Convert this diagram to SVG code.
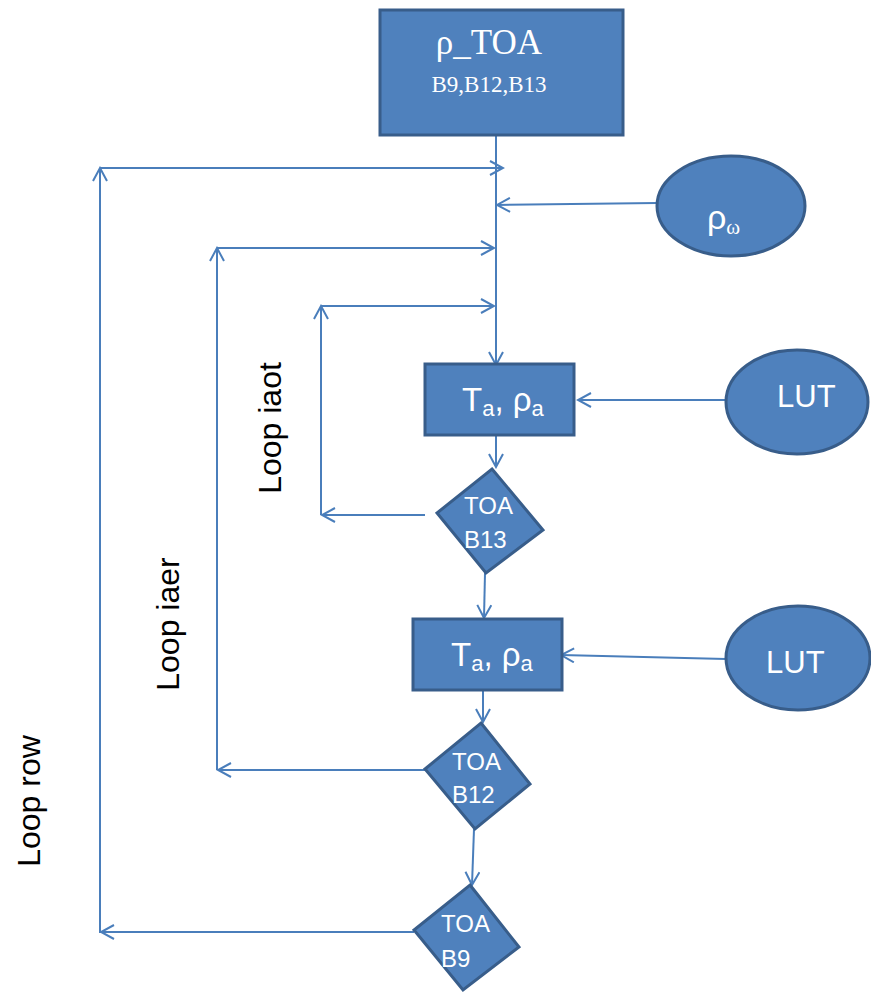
<svg xmlns="http://www.w3.org/2000/svg" width="871" height="993" viewBox="0 0 871 993">
<defs>
<marker id="arr" markerUnits="userSpaceOnUse" markerWidth="16" markerHeight="16" viewBox="0 0 16 16" refX="14" refY="8" orient="auto">
<path d="M1,1 L14,8 L1,15" fill="none" stroke="#4A7EBB" stroke-width="2"/>
</marker>
<style>
.shp{fill:#4F81BD;stroke:#385D8A;stroke-width:3}
.ln{fill:none;stroke:#4A7EBB;stroke-width:2}
.ar{marker-end:url(#arr)}
.t{fill:#fff;font-family:"Liberation Sans",Arial,sans-serif}
.ts{fill:#fff;font-family:"Liberation Serif","Times New Roman",serif}
.lb{fill:#000;font-family:"Liberation Sans",Arial,sans-serif;font-size:32px}
</style>
</defs>
<g id="connectors">
<path class="ln ar" d="M496,135 L496,365"/>
<path class="ln ar" d="M100,933 L100,168"/>
<path class="ln ar" d="M100,168 L503,168"/>
<path class="ln ar" d="M657,203 L497,205"/>
<path class="ln ar" d="M217,770 L217,248"/>
<path class="ln ar" d="M217,248 L494,248"/>
<path class="ln ar" d="M321,515 L321,306"/>
<path class="ln ar" d="M321,306 L494,306"/>
<path class="ln ar" d="M727,400 L578,400"/>
<path class="ln ar" d="M496,435 L496,467"/>
<path class="ln ar" d="M425,515 L322,515"/>
<path class="ln ar" d="M485,573 L484,618"/>
<path class="ln ar" d="M726,659 L561,655"/>
<path class="ln ar" d="M483,690 L483,722"/>
<path class="ln ar" d="M425,770 L218,770"/>
<path class="ln ar" d="M474,829 L472,885"/>
<path class="ln ar" d="M414,932 L101,932"/>
</g>
<g id="toa">
<rect class="shp" x="380" y="10" width="243" height="125"/>
<text class="ts" x="489" y="54" font-size="35" text-anchor="middle">ρ_TOA</text>
<text class="ts" x="489" y="92" font-size="23" text-anchor="middle">B9,B12,B13</text>
</g>
<g id="rhow">
<ellipse class="shp" cx="731" cy="206" rx="74" ry="50"/>
<text class="t" x="707" y="229" font-size="34">ρ<tspan font-size="21" font-family="Liberation Serif,serif" dy="5">ω</tspan></text>
</g>
<g id="box1">
<rect class="shp" x="425" y="364" width="149" height="71"/>
<text class="t" x="462" y="411" font-size="33">T<tspan font-size="22" dy="5">a</tspan><tspan dy="-5">, ρ</tspan><tspan font-size="22" dy="5">a</tspan></text>
</g>
<g id="lut1">
<ellipse class="shp" cx="797" cy="402" rx="71" ry="52"/>
<text class="t" x="777" y="407" font-size="31">LUT</text>
</g>
<g id="d13">
<polygon class="shp" points="492,469 543,530 486,573 437,513"/>
<text class="t" x="464" y="514" font-size="24">TOA</text>
<text class="t" x="464" y="548" font-size="24">B13</text>
</g>
<g id="box2">
<rect class="shp" x="413" y="619" width="149" height="71"/>
<text class="t" x="451" y="666" font-size="33">T<tspan font-size="22" dy="5">a</tspan><tspan dy="-5">, ρ</tspan><tspan font-size="22" dy="5">a</tspan></text>
</g>
<g id="lut2">
<ellipse class="shp" cx="798" cy="658" rx="72" ry="52"/>
<text class="t" x="766" y="673" font-size="31">LUT</text>
</g>
<g id="d12">
<polygon class="shp" points="481,723 530,784 475,829 425,769"/>
<text class="t" x="452" y="770" font-size="24">TOA</text>
<text class="t" x="452" y="803" font-size="24">B12</text>
</g>
<g id="d9">
<polygon class="shp" points="470,885 519,947 463,990 414,930"/>
<text class="t" x="441" y="932" font-size="24">TOA</text>
<text class="t" x="441" y="967" font-size="24">B9</text>
</g>
<g id="labels">
<text class="lb" transform="translate(281,428) rotate(-90)" text-anchor="middle">Loop iaot</text>
<text class="lb" transform="translate(179,624) rotate(-90)" text-anchor="middle">Loop iaer</text>
<text class="lb" transform="translate(40,801) rotate(-90)" text-anchor="middle">Loop row</text>
</g>
</svg>
